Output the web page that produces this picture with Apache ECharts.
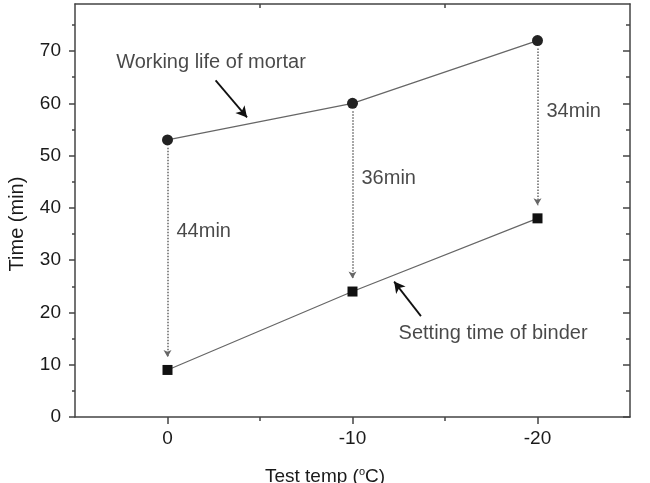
<!DOCTYPE html>
<html>
<head>
<meta charset="utf-8">
<script src="https://cdn.jsdelivr.net/npm/echarts@6/dist/echarts.min.js"></script>
<style>html,body{margin:0;padding:0;background:#fff;}#c{width:650px;height:483px;}</style>
</head>
<body>
<div id="c"></div>
<script>
const temps = [0, -10, -20];
const workingLife = [53, 60, 72];
const settingTime = [9, 24, 38];
const xTickLabels = [0, -10, -20];
const xMinorTicks = [-5, -15];
const yTickLabels = [0, 10, 20, 30, 40, 50, 60, 70];
const yMinorTicks = [5, 15, 25, 35, 45, 55, 65, 75];

const FONT = 'Liberation Sans';
const TXT = '#1a1a1a';
const AX = '#444';

const chart = echarts.init(document.getElementById('c'), null, {renderer: 'canvas'});

const baseX = {type: 'value', min: -25, max: 5, inverse: true, splitLine: {show: false}};
const baseY = {type: 'value', min: 0, max: 79, splitLine: {show: false}};

const gapArrows = temps.map((t, i) => [
  {coord: [t, workingLife[i] - 1.5]},
  {coord: [t, settingTime[i] + 2.5]}
]);
const gapLabels = temps.map((t, i) => ({
  value: [t, settingTime[i] + (workingLife[i] - settingTime[i]) * 0.6],
  gap: workingLife[i] - settingTime[i]
}));

const lineOn = {show: true, onZero: false, lineStyle: {color: AX, width: 1.5}};
const lineOff = {show: false, onZero: false};

const option = {
  animation: false,
  backgroundColor: '#fff',
  grid: {left: 75, right: 20, top: 4, bottom: 66},
  xAxis: [
    Object.assign({}, baseX, {
      position: 'bottom',
      axisLine: lineOn,
      axisTick: {show: true, inside: false, length: 7, lineStyle: {color: AX, width: 1.5}, customValues: xTickLabels},
      axisLabel: {show: true, margin: 12, fontSize: 19, fontFamily: FONT, color: TXT, customValues: xTickLabels}
    }),
    Object.assign({}, baseX, {
      position: 'bottom',
      axisLine: lineOff,
      axisTick: {show: true, inside: false, length: 4, lineStyle: {color: AX, width: 1.5}, customValues: xMinorTicks},
      axisLabel: {show: false}
    }),
    Object.assign({}, baseX, {
      position: 'top',
      axisLine: lineOn,
      axisTick: {show: true, inside: true, length: 4, lineStyle: {color: AX, width: 1.5}, customValues: xMinorTicks},
      axisLabel: {show: false}
    })
  ],
  yAxis: [
    Object.assign({}, baseY, {
      position: 'left',
      axisLine: lineOn,
      axisTick: {show: true, inside: false, length: 6, lineStyle: {color: AX, width: 1.5}, customValues: yTickLabels},
      axisLabel: {show: true, margin: 14, fontSize: 19, fontFamily: FONT, color: TXT, customValues: yTickLabels}
    }),
    Object.assign({}, baseY, {
      position: 'left',
      axisLine: lineOff,
      axisTick: {show: true, inside: false, length: 3, lineStyle: {color: AX, width: 1.5}, customValues: yMinorTicks},
      axisLabel: {show: false}
    }),
    Object.assign({}, baseY, {
      position: 'right',
      axisLine: lineOn,
      axisTick: {show: true, inside: true, length: 7, lineStyle: {color: AX, width: 1.5}, customValues: yTickLabels},
      axisLabel: {show: false}
    }),
    Object.assign({}, baseY, {
      position: 'right',
      axisLine: lineOff,
      axisTick: {show: true, inside: true, length: 4, lineStyle: {color: AX, width: 1.5}, customValues: yMinorTicks},
      axisLabel: {show: false}
    })
  ],
  graphic: [
    {
      type: 'text', left: 'center', top: 466,
      style: {
        text: 'Test temp ({s|o}C)',
        fontSize: 19, fontFamily: FONT, fill: TXT,
        rich: {s: {fontSize: 11, fontFamily: FONT, fill: TXT, verticalAlign: 'top', padding: [0, 0, 10, 0]}}
      },
      x: 28
    },
    {
      type: 'text', x: 7, y: 224, rotation: Math.PI / 2,
      style: {text: 'Time (min)', fontSize: 20, fontFamily: FONT, fill: TXT, align: 'center', verticalAlign: 'top'}
    }
  ],
  series: [
    {
      name: 'Working life of mortar', type: 'line',
      xAxisIndex: 0, yAxisIndex: 0,
      data: temps.map((t, i) => [t, workingLife[i]]),
      symbol: 'circle', symbolSize: 11,
      itemStyle: {color: '#222'},
      lineStyle: {color: '#666', width: 1.2},
      markLine: {
        silent: true, symbol: ['none', 'arrow'], symbolSize: [6, 7],
        label: {show: false},
        lineStyle: {type: 'dotted', color: '#666', width: 1.5},
        data: gapArrows
      }
    },
    {
      name: 'Setting time of binder', type: 'line',
      xAxisIndex: 0, yAxisIndex: 0,
      data: temps.map((t, i) => [t, settingTime[i]]),
      symbol: 'rect', symbolSize: 10,
      itemStyle: {color: '#111'},
      lineStyle: {color: '#666', width: 1.2},
      markLine: {
        silent: true, symbol: ['none', 'arrow'], symbolSize: [9, 11],
        label: {show: false},
        lineStyle: {type: 'solid', color: '#111', width: 1.8},
        data: [
          [{coord: [-2.6, 64.4]}, {coord: [-4.3, 57.3]}],
          [{coord: [-13.7, 19.3]}, {coord: [-12.25, 25.9]}]
        ]
      }
    },
    {
      type: 'scatter', xAxisIndex: 0, yAxisIndex: 0,
      symbolSize: 0, silent: true,
      data: gapLabels,
      label: {
        show: true, position: 'right', distance: 9,
        formatter: p => p.data.gap + 'min',
        fontSize: 20, fontFamily: FONT, color: TXT
      }
    },
    {
      type: 'scatter', xAxisIndex: 0, yAxisIndex: 0,
      symbolSize: 0, silent: true,
      data: [
        {value: [-2.35, 67.8], name: 'Working life of mortar'},
        {value: [-17.6, 16.0], name: 'Setting time of binder'}
      ],
      label: {
        show: true, position: 'inside',
        formatter: p => p.name,
        fontSize: 20, fontFamily: FONT, color: TXT
      }
    }
  ]
};
chart.setOption(option);
</script>
</body>
</html>
